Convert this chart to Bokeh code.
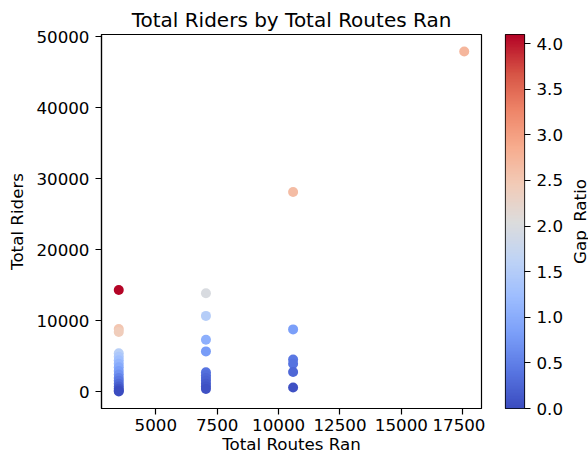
import numpy as np
from bokeh.plotting import figure
from bokeh.layouts import row
from bokeh.models import (ColumnDataSource, LinearColorMapper, FixedTicker,
                          Range1d, BasicTickFormatter, PrintfTickFormatter)
from bokeh.embed import file_html
from bokeh.resources import INLINE

# ---- data ----
total_routes = [3490]*17 + [7040]*11 + [10590]*6 + [17560]
total_riders = [14300, 8800, 8400, 5400, 4900, 4400, 3900, 3400, 2900, 2400, 1900, 1500, 1100, 700, 400, 150, 0,
                13850, 10650, 7300, 5650, 2700, 2300, 1900, 1500, 1100, 700, 350,
                28100, 8750, 4500, 3900, 2750, 570,
                47900]
gap_ratio = [4.10, 2.52, 2.41, 1.55, 1.40, 1.26, 1.12, 0.97, 0.83, 0.69, 0.54, 0.43, 0.32, 0.20, 0.11, 0.04, 0.0,
             1.97, 1.51, 1.04, 0.80, 0.38, 0.33, 0.27, 0.21, 0.16, 0.10, 0.05,
             2.65, 0.83, 0.42, 0.37, 0.26, 0.05,
             2.73]
x_ticks = [5000, 7500, 10000, 12500, 15000, 17500]
y_ticks = [0, 10000, 20000, 30000, 40000, 50000]
cb_ticks = [0.0, 0.5, 1.0, 1.5, 2.0, 2.5, 3.0, 3.5, 4.0]

# ---- coolwarm palette ----
anchors = ["#3b4cc0", "#5977e3", "#7b9ff9", "#9ebeff", "#c0d4f5", "#dddcdc",
           "#f2cbb7", "#f7ac8e", "#ee8468", "#d65244", "#b40426"]
arr = np.array([[int(h[i:i+2], 16) for i in (1, 3, 5)] for h in anchors], dtype=float)
pos = np.linspace(0, 1, len(anchors))
tt = np.linspace(0, 1, 256)
palette = ["#%02x%02x%02x" % tuple(int(round(np.interp(t, pos, arr[:, c]))) for c in range(3)) for t in tt]

FONT = "DejaVu Sans"
TICK = "16.7px"
src = ColumnDataSource(dict(x=total_routes, y=total_riders, g=gap_ratio))
low, high = min(gap_ratio), max(gap_ratio)
mapper = LinearColorMapper(palette=palette, low=low, high=high)

xmin, xmax = min(total_routes), max(total_routes)
ymin, ymax = min(total_riders), max(total_riders)
xm = 0.05*(xmax-xmin); ym = 0.05*(ymax-ymin)

FW, FH = 380, 374
TOP, BOT = 34, 49

p = figure(frame_width=FW, frame_height=FH, output_backend="svg", toolbar_location=None,
           x_range=Range1d(xmin-xm, xmax+xm), y_range=Range1d(ymin-ym, ymax+ym),
           min_border_left=101, min_border_right=4, min_border_top=TOP, min_border_bottom=BOT,
           title="Total Riders by Total Routes Ran")
p.scatter("x", "y", source=src, size=10, line_color=None,
          fill_color={"field": "g", "transform": mapper})

p.title.align = "center"
p.title.text_font = FONT
p.title.text_font_size = "20px"
p.title.text_font_style = "normal"
p.title.text_color = "black"
p.title.standoff = 5

p.xgrid.visible = False
p.ygrid.visible = False
p.outline_line_color = "black"
p.outline_line_alpha = 1
p.outline_line_width = 1.2

def style_axis(ax):
    ax.major_label_text_font = FONT
    ax.major_label_text_font_size = TICK
    ax.major_label_text_color = "black"
    ax.axis_label_text_font = FONT
    ax.axis_label_text_font_size = TICK
    ax.axis_label_text_font_style = "normal"
    ax.axis_label_text_color = "black"
    ax.minor_tick_line_color = None
    ax.major_tick_out = 6
    ax.major_tick_in = 0
    ax.major_tick_line_color = "black"
    ax.major_tick_line_width = 1.2
    ax.axis_line_color = "black"
    ax.axis_line_width = 1.2

for ax in (p.xaxis[0], p.yaxis[0]):
    style_axis(ax)
    ax.formatter = BasicTickFormatter(use_scientific=False)
p.xaxis[0].major_label_standoff = 4
p.xaxis[0].axis_label_standoff = 0
p.yaxis[0].major_label_standoff = 6
p.yaxis[0].axis_label_standoff = 6
p.xaxis[0].ticker = FixedTicker(ticks=x_ticks)
p.yaxis[0].ticker = FixedTicker(ticks=y_ticks)
p.xaxis[0].axis_label = "Total Routes Ran"
p.yaxis[0].axis_label = "Total Riders"

# ---- colour bar as its own small figure ----
cb = figure(frame_width=19, frame_height=FH, output_backend="svg", toolbar_location=None,
            x_range=Range1d(0, 1), y_range=Range1d(low, high),
            x_axis_location=None, y_axis_location="right",
            min_border_left=20, min_border_right=0, min_border_top=TOP, min_border_bottom=BOT)
cb.image(image=[np.linspace(low, high, 256).reshape(256, 1)], x=0, y=low, dw=1, dh=high-low,
         color_mapper=mapper)
cb.xgrid.visible = False
cb.ygrid.visible = False
cb.outline_line_color = "black"
cb.outline_line_alpha = 1
cb.outline_line_width = 1.2
ya = cb.yaxis[0]
style_axis(ya)
ya.axis_line_color = None
ya.major_label_standoff = 6
ya.ticker = FixedTicker(ticks=cb_ticks)
ya.formatter = PrintfTickFormatter(format="%.1f")

# ---- colour-bar title, drawn as a left axis label of a slim figure ----
lab = figure(frame_width=1, frame_height=FH, output_backend="svg", toolbar_location=None,
             x_range=Range1d(0, 1), y_range=Range1d(low, high),
             x_axis_location=None, y_axis_location="left",
             min_border_left=24, min_border_right=0, min_border_top=TOP, min_border_bottom=BOT)
lab.outline_line_color = None
lab.background_fill_alpha = 0
lab.border_fill_alpha = 0
lab.xgrid.visible = False
lab.ygrid.visible = False
la = lab.yaxis[0]
style_axis(la)
la.ticker = FixedTicker(ticks=[])
la.axis_line_color = None
la.major_tick_out = 0
la.major_label_standoff = 0
la.axis_label = "Gap_Ratio"
la.axis_label_standoff = 2

layout = row(p, cb, lab)
open("out.html", "w").write(file_html(layout, INLINE))
